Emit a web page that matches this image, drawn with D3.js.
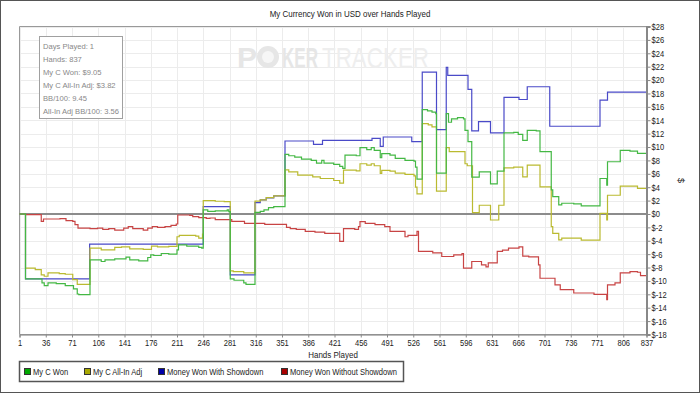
<!DOCTYPE html>
<html>
<head>
<meta charset="utf-8">
<script src="https://cdn.jsdelivr.net/npm/d3@7"></script>
<style>
	body { margin: 0; background: #fff; }
	text { font-family: "Liberation Sans", Arial, sans-serif; }
</style>
</head>
<body>
<script>
var handTicks = [1, 36, 71, 106, 141, 176, 211, 246, 281, 316, 351, 386, 421, 456, 491, 526, 561, 596, 631, 666, 701, 736, 771, 806, 837];
var dollarTicks = [-18, -16, -14, -12, -10, -8, -6, -4, -2, 0, 2, 4, 6, 8, 10, 12, 14, 16, 18, 20, 22, 24, 26, 28];

var infoLines = ["Days Played: 1", "Hands: 837", "My C Won: $9.05", "My C All-In Adj: $3.82", "BB/100: 9.45", "All-In Adj BB/100: 3.56"];

var seriesNames = ["My C Won", "My C All-In Adj", "Money Won With Showdown", "Money Won Without Showdown"];

// [hand, dollars] step points
var myWon = [[1,0],[9,-9.7],[31,-10.3],[34,-10.7],[39,-10.3],[50,-10.4],[62,-10.7],[73,-11.2],[78,-11.95],[80,-12.05],
	[95,-6.85],[110,-7.1],[115,-6.85],[128,-6.7],[143,-6.45],[148,-6.85],[160,-7.0],[172,-6.5],[176,-6.1],[180,-6.2],
	[190,-5.9],[200,-6.0],[211,-5.35],[213,-4.6],[224,-4.8],[240,-5.0],[244,-5.1],[246,0.6],[252,0.4],[262,0.45],
	[278,0.6],[280,0.35],[282,-9.7],[287,-9.9],[300,-10.3],[303,-10.5],[315,0.25],[322,0.4],[327,0.6],[333,0.95],
	[340,1.1],[355,8.9],[360,8.7],[368,8.5],[377,8.2],[390,8.0],[397,7.6],[404,8.0],[407,7.6],[420,7.4],[428,7.1],
	[432,6.8],[435,8.8],[450,8.7],[455,9.9],[464,9.6],[470,9.9],[474,9.5],[482,8.4],[484,9.0],[495,8.8],[502,8.3],
	[515,8.0],[527,7.9],[529,7.0],[531,5.2],[538,15.6],[545,15.4],[551,15.2],[556,15.0],[557,6.1],[570,15.0],
	[573,13.7],[577,14.2],[585,14.4],[593,14.2],[595,12.5],[599,10.8],[604,5.5],[614,6.3],[629,4.5],[638,6.4],
	[647,12.1],[660,12.2],[666,11.9],[672,11.0],[678,12.5],[690,12.4],[695,9.3],[710,3.6],[712,2.6],[720,1.35],
	[724,1.6],[740,1.5],[750,1.2],[775,5.3],[784,4.3],[785,7.8],[802,9.5],[815,9.4],[825,9.05],[837,9.05]];

var allInAdj = [[1,0],[9,-8.1],[22,-8.3],[30,-9.1],[34,-9.3],[39,-8.8],[54,-8.9],[62,-9.0],[72,-9.8],[78,-10.5],
	[95,-5.1],[110,-5.35],[128,-5.0],[137,-4.9],[148,-5.2],[166,-5.3],[177,-4.8],[185,-4.9],[200,-4.85],[211,-3.4],
	[214,-3.2],[236,-3.3],[240,-3.6],[245,-3.0],[246,2.0],[262,1.9],[274,1.85],[282,-8.5],[286,-8.6],[300,-8.8],
	[315,1.93],[322,2.1],[330,2.43],[340,2.7],[355,6.6],[360,6.3],[372,5.8],[392,5.55],[402,5.3],[420,5.0],[428,4.6],
	[433,6.55],[450,6.45],[455,7.5],[464,7.3],[470,7.5],[474,7.2],[482,6.05],[484,6.5],[495,6.4],[502,6.1],[515,5.9],
	[527,5.7],[529,4.0],[531,3.0],[538,13.5],[546,13.3],[551,13.0],[557,3.4],[570,9.9],[574,9.3],[593,9.3],[595,7.5],
	[598,7.2],[605,0.2],[614,1.3],[629,-0.9],[640,1.3],[647,6.9],[660,7.0],[672,5.55],[678,7.3],[695,4.06],[710,-1.9],
	[712,-2.9],[720,-3.87],[724,-3.6],[750,-3.9],[775,0.1],[784,-0.9],[785,2.8],[802,4.15],[825,3.82],[837,3.82]];

var withShowdown = [[1,0],[9,-9.7],[94.5,-4.5],[246,1.1],[282,-9.1],[315,1.7],[322,2.1],[330,2.4],[340,2.7],[355,10.9],
	[393,10.4],[405,11.0],[471,11.3],[482,10.1],[486,11.5],[524,10.8],[538,21.2],[557,12.6],[570,21.9],[572,20.7],
	[599,18.6],[604,12.4],[613,13.8],[629,12.1],[647,17.4],[667,17.1],[678,19.0],[708,13.1],[775,17.0],[785,18.2],[837,18.2]];

var withoutShowdown = [[1,0],[9,-0.1],[30,-1.1],[33,-0.75],[55,-0.7],[63,-1.0],[72,-1.1],[75,-1.6],[79,-2.1],[95,-2.2],
	[105,-2.1],[112,-2.3],[120,-2.2],[128,-2.4],[140,-2.1],[146,-1.9],[152,-2.2],[160,-2.2],[166,-2.4],[172,-2.1],
	[178,-1.9],[185,-2.0],[195,-1.9],[203,-1.7],[210,-1.5],[212,-0.15],[228,-0.2],[232,-0.4],[240,-0.55],[250,-0.65],
	[255,-0.6],[262,-0.85],[284,-1.1],[301,-1.4],[328,-1.55],[357,-2.0],[362,-2.2],[370,-2.3],[382,-2.6],[395,-2.7],
	[408,-2.9],[428,-4.1],[433,-2.2],[448,-2.3],[453,-1.9],[455,-1.15],[462,-1.4],[475,-1.6],[488,-1.9],[495,-2.6],
	[515,-3.4],[519,-3.2],[531,-2.6],[533,-5.6],[545,-5.6],[552,-5.8],[564,-6.35],[580,-6.1],[591,-5.9],[593,-8.1],
	[604,-7.1],[617,-7.6],[623,-7.9],[626,-7.3],[638,-5.6],[645,-5.4],[653,-5.1],[667,-4.9],[672,-6.3],[680,-6.4],
	[693,-7.6],[695,-9.6],[715,-10.6],[722,-11.3],[740,-11.8],[767,-12.0],[784,-12.8],[785,-10.6],[795,-10.3],
	[802,-8.8],[815,-8.6],[825,-8.7],[829,-9.2],[837,-9.2]];

var width = 700, height = 393;
var plotLeft = 19.5, plotRight = 646.5, plotTop = 26.5, plotBottom = 334.5;
var squeeze = 0.84;

var svg = d3.select("body").append("svg")
	.attr("width", width)
	.attr("height", height);

// narrow text: the original uses a condensed face, so scale horizontally
function narrowText(parent, x, y, str, size, anchor) {
	return parent.append("text")
		.attr("transform", "translate(" + x + "," + y + ") scale(" + squeeze + ",1)")
		.attr("text-anchor", anchor || "start")
		.attr("font-size", size + "px")
		.attr("fill", "#222")
		.text(str);
}

// outer frame
svg.append("rect")
	.attr("x", 0.5).attr("y", 0.5)
	.attr("width", width - 1).attr("height", height - 1)
	.attr("fill", "#fff")
	.attr("stroke", "#555");

narrowText(svg, 350, 17, "My Currency Won in USD over Hands Played", 9.5, "middle");

var x = d3.scaleLinear().domain([1, 837]).range([plotLeft, plotRight]);
var y = d3.scaleLinear().domain([-18, 28]).range([plotBottom, plotTop]);

// grid
var grid = svg.append("g");
grid.selectAll(".vg").data(handTicks).enter().append("line")
	.attr("x1", function(d) { return Math.round(x(d)) + 0.5; })
	.attr("x2", function(d) { return Math.round(x(d)) + 0.5; })
	.attr("y1", plotTop).attr("y2", plotBottom)
	.attr("stroke", "#ececec");
grid.selectAll(".hg").data(dollarTicks).enter().append("line")
	.attr("x1", plotLeft).attr("x2", plotRight)
	.attr("y1", function(d) { return Math.round(y(d)) + 0.5; })
	.attr("y2", function(d) { return Math.round(y(d)) + 0.5; })
	.attr("stroke", "#ececec");

// watermark
var wm = svg.append("g").attr("fill", "#e6e6e6");
wm.append("text").attr("x", 237).attr("y", 68)
	.attr("font-family", "Roboto, sans-serif").attr("font-weight", "bold").attr("font-size", "30px")
	.text("P");
wm.append("circle").attr("cx", 268).attr("cy", 57).attr("r", 11).attr("fill", "#e6e6e6");
wm.append("circle").attr("cx", 268).attr("cy", 57).attr("r", 6).attr("fill", "#f6f6f6");
wm.append("text").attr("x", 282).attr("y", 68)
	.attr("font-family", "Roboto, sans-serif").attr("font-weight", "bold").attr("font-size", "30px")
	.attr("textLength", 36).attr("lengthAdjust", "spacingAndGlyphs")
	.text("KER");
wm.append("text").attr("x", 322).attr("y", 68)
	.attr("font-family", "Roboto, sans-serif").attr("font-size", "30px")
	.attr("fill", "#eeeeee")
	.attr("textLength", 107).attr("lengthAdjust", "spacingAndGlyphs")
	.text("TRACKER");

// plot border (top/left/bottom)
svg.append("path")
	.attr("d", "M" + plotRight + "," + plotTop + "H" + plotLeft + "V" + plotBottom + "H" + plotRight)
	.attr("fill", "none")
	.attr("stroke", "#999");

// zero line
svg.append("line")
	.attr("x1", plotLeft).attr("x2", plotRight)
	.attr("y1", y(0)).attr("y2", y(0))
	.attr("stroke", "#8c8c8c")
	.attr("stroke-width", 2);

// lines
var line = d3.line()
	.x(function(d) { return x(d[0]); })
	.y(function(d) { return y(d[1]); })
	.curve(d3.curveStepAfter);

var seriesData = [withoutShowdown, withShowdown, allInAdj, myWon];
var lineColors = ["#c84444", "#4a4ac8", "#baba30", "#44b844"];
seriesData.forEach(function(s, i) {
	svg.append("path")
		.datum(s)
		.attr("d", line)
		.attr("fill", "none")
		.attr("stroke", lineColors[i])
		.attr("stroke-width", 1.2);
});

// x axis
var xAxis = svg.append("g")
	.attr("transform", "translate(0," + plotBottom + ")")
	.call(d3.axisBottom(x).tickValues(handTicks).tickSize(3).tickFormat(d3.format("d")));
xAxis.select(".domain").attr("stroke", "#888");
xAxis.selectAll(".tick line").attr("stroke", "#888");
xAxis.selectAll("text")
	.attr("font-family", "Liberation Sans, Arial, sans-serif")
	.attr("font-size", "9px")
	.attr("fill", "#222")
	.attr("y", 5)
	.attr("dy", "0.71em")
	.attr("transform", "scale(" + squeeze + ",1)");

narrowText(svg, (plotLeft + plotRight) / 2, 358, "Hands Played", 9.5, "middle");

// right axis
var yAxis = svg.append("g")
	.attr("transform", "translate(" + plotRight + ",0)")
	.call(d3.axisRight(y).tickValues(dollarTicks).tickSize(4).tickFormat(function(d) {
		return d < 0 ? "$-" + Math.abs(d) : "$" + d;
	}));
yAxis.select(".domain").attr("stroke", "#888").attr("stroke-width", 2);
yAxis.selectAll(".tick line").attr("stroke", "#888");
yAxis.selectAll("text")
	.attr("font-family", "Liberation Sans, Arial, sans-serif")
	.attr("font-size", "9px")
	.attr("fill", "#222")
	.attr("x", 5 / squeeze)
	.attr("transform", "scale(" + squeeze + ",1)");

svg.append("text")
	.attr("transform", "translate(678," + ((plotTop + plotBottom) / 2) + ") rotate(90)")
	.attr("text-anchor", "middle")
	.attr("font-size", "9px")
	.attr("fill", "#222")
	.text("$");

// info box
var info = svg.append("g");
info.append("rect")
	.attr("x", 39.5).attr("y", 36.5)
	.attr("width", 83).attr("height", 82)
	.attr("fill", "#fff")
	.attr("stroke", "#a0a0a0");
info.selectAll("text").data(infoLines).enter().append("text")
	.attr("x", 43)
	.attr("y", function(d, i) { return 48.5 + i * 13.1; })
	.attr("font-family", "Liberation Sans, Arial, sans-serif")
	.attr("font-size", "7.6px")
	.attr("fill", "#888")
	.text(function(d) { return d; });

// legend
var legendColors = ["#00a800", "#a8a800", "#0000a8", "#a80000"];
var legendX = [24, 84, 158, 281];
var legend = svg.append("g");
legend.append("rect")
	.attr("x", 19.5).attr("y", 361.5)
	.attr("width", 384).attr("height", 20)
	.attr("fill", "#fff")
	.attr("stroke", "#555")
	.attr("stroke-width", 1.5);
seriesNames.forEach(function(n, i) {
	legend.append("rect")
		.attr("x", legendX[i] + 0.5).attr("y", 368.5)
		.attr("width", 6).attr("height", 6)
		.attr("fill", legendColors[i])
		.attr("stroke", "#333");
	narrowText(legend, legendX[i] + 9, 375, n, 9);
});
</script>
</body>
</html>
